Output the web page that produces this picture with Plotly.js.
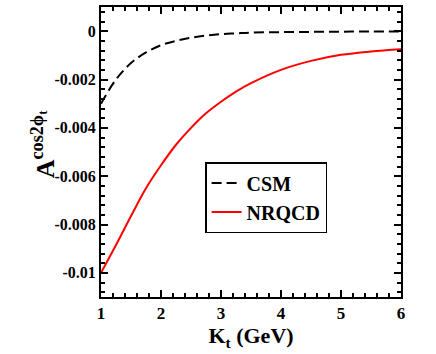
<!DOCTYPE html>
<html>
<head>
<meta charset="utf-8">
<script src="https://cdn.plot.ly/plotly-3.0.1.min.js"></script>
<style>
  html, body { margin: 0; padding: 0; background: #fff; }
  #chart { width: 436px; height: 354px; }
</style>
</head>
<body>
<div id="chart"></div>
<script>
// K_t values (GeV)
var kt = [1, 1.25, 1.5, 1.75, 2, 2.25, 2.5, 2.75, 3, 3.25, 3.5, 4, 4.5, 5, 5.5, 6];

// asymmetry curves
var csm = [-0.0030, -0.0020, -0.00132, -0.00088, -0.00058, -0.00040, -0.00027, -0.00018,
           -0.00012, -0.00009, -0.00006, -0.00004, -0.00003, -0.00002, -0.00001, -0.00001];
var nrqcd = [-0.0100, -0.00885, -0.00765, -0.00650, -0.00555, -0.00470, -0.00400, -0.00340,
             -0.00292, -0.00250, -0.00215, -0.00160, -0.00123, -0.00098, -0.00084, -0.00075];

var yTickVals = [0, -0.002, -0.004, -0.006, -0.008, -0.01];
var yTickText = ["0", "-0.002", "-0.004", "-0.006", "-0.008", "-0.01"];

var serif = "Liberation Serif";

var data = [
  {
    x: kt, y: csm, name: "<b>CSM</b>", type: "scatter", mode: "lines",
    line: {color: "black", width: 2, dash: "10px,5px", shape: "spline"}
  },
  {
    x: kt, y: nrqcd, name: "<b>NRQCD</b>", type: "scatter", mode: "lines",
    line: {color: "red", width: 2, shape: "spline"}
  }
];

var layout = {
  width: 436,
  height: 354,
  margin: {l: 101, r: 35, t: 7, b: 57},
  paper_bgcolor: "white",
  plot_bgcolor: "white",
  font: {family: serif, color: "black"},
  showlegend: true,
  legend: {
    x: 0.347, y: 0.4655, xanchor: "left", yanchor: "top",
    bordercolor: "black", borderwidth: 1.5, bgcolor: "white",
    font: {family: serif, size: 20, color: "black"},
    tracegroupgap: 0
  },
  xaxis: {
    range: [1, 6],
    tickvals: [1, 2, 3, 4, 5, 6],
    ticktext: ["1", "2", "3", "4", "5", "6"],
    ticks: "inside", ticklen: 7, tickwidth: 2, tickcolor: "black",
    minor: {ticks: "inside", tick0: 1, dtick: 0.2, ticklen: 4, tickwidth: 1.5, tickcolor: "black"},
    showline: true, linecolor: "black", linewidth: 2, mirror: "allticks",
    showgrid: false, zeroline: false,
    tickfont: {family: serif, size: 17, color: "black", weight: "bold"},
    title: {text: "<b>K<sub>t</sub> (GeV)</b>", font: {family: serif, size: 22, color: "black"}, standoff: 2}
  },
  yaxis: {
    range: [-0.011, 0.001],
    tickvals: yTickVals,
    ticktext: yTickText,
    ticks: "inside", ticklen: 7, tickwidth: 2, tickcolor: "black",
    minor: {ticks: "inside", tick0: 0, dtick: 0.0004, ticklen: 4, tickwidth: 1.5, tickcolor: "black"},
    showline: true, linecolor: "black", linewidth: 2, mirror: "allticks",
    showgrid: false, zeroline: false,
    tickfont: {family: serif, size: 16, color: "black", weight: "bold"}
  },
  annotations: [{
    text: "<b>A<sup>cos2\u03d5<sub>t</sub></sup></b>",
    xref: "paper", yref: "paper",
    x: -0.13, y: 0.525, xanchor: "right", yanchor: "middle",
    textangle: -90, showarrow: false,
    font: {family: serif, size: 26, color: "black"}
  }]
};

Plotly.newPlot("chart", data, layout, {displayModeBar: false});
</script>
</body>
</html>
